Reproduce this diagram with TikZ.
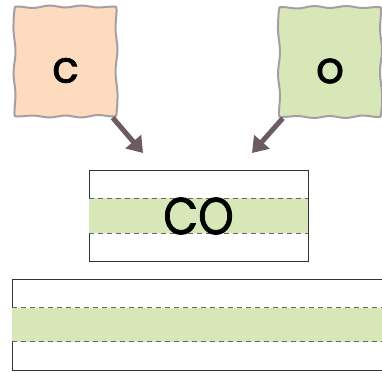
\documentclass[tikz,border=0pt]{standalone}
\usepackage{graphicx}
\usepackage{fontspec}
\setmainfont{Poppins}
\newfontfamily\heavyfont{Poppins}[FakeBold=1.5]
\usetikzlibrary{arrows.meta}
\definecolor{peach}{HTML}{FDDBBE}
\definecolor{leaf}{HTML}{D8E7B8}
\definecolor{rim}{HTML}{A69EA2}
\definecolor{plum}{HTML}{6C5B61}

% wavy outline round a tile node
\newcommand{\wobble}[1]{plot[smooth cycle,tension=0.55] coordinates {
  ([shift={(-48,-55)}]#1.center) ([shift={(-32,-53.5)}]#1.center) ([shift={(-16,-56)}]#1.center)
  ([shift={(0,-54)}]#1.center) ([shift={(16,-56)}]#1.center) ([shift={(32,-54)}]#1.center)
  ([shift={(48,-55)}]#1.center)
  ([shift={(51,-52)}]#1.center) ([shift={(50,-32)}]#1.center) ([shift={(52,-12)}]#1.center)
  ([shift={(50,10)}]#1.center) ([shift={(52,32)}]#1.center) ([shift={(51,52)}]#1.center)
  ([shift={(48,55)}]#1.center) ([shift={(32,53.5)}]#1.center) ([shift={(16,56)}]#1.center)
  ([shift={(0,54)}]#1.center) ([shift={(-16,56)}]#1.center) ([shift={(-32,54)}]#1.center)
  ([shift={(-48,55)}]#1.center)
  ([shift={(-51,52)}]#1.center) ([shift={(-50,32)}]#1.center) ([shift={(-52,12)}]#1.center)
  ([shift={(-50,-10)}]#1.center) ([shift={(-52,-32)}]#1.center) ([shift={(-51,-52)}]#1.center)}}

\begin{document}
\begin{tikzpicture}[x=1pt,y=-1pt,
tile/.style={minimum width=102pt,minimum height=110pt,inner sep=0pt},
rimline/.style={draw=rim,line width=2pt},
letter/.style={font=\heavyfont\fontsize{44}{44}\selectfont},
box/.style={draw=black!80,line width=0.9pt,inner sep=0pt},
band/.style={fill=leaf},
seam/.style={draw=black!60,line width=0.8pt,dash pattern=on 5pt off 4pt},
arrow/.style={-{Triangle[length=15pt,width=20pt]},draw=plum,fill=plum,line width=5pt},
word/.style={font=\heavyfont\fontsize{52}{52}\selectfont} ]

\useasboundingbox (0,0) rectangle (382,372);
\clip (0,0) rectangle (382,372);

\node[tile](C) at (65.5,61.5) {};
\draw[rimline,fill=peach] \wobble{C};
\node[letter](Cl) at ([yshift=-9pt]C.center) {c};

\node[tile](O) at (330,62) {};
\draw[rimline,fill=leaf] \wobble{O};
\node[letter](Ol) at ([yshift=-9pt]O.center) {o};

\coordinate (cin) at (143,153);
\coordinate (oin) at (252,153);

\draw[arrow] ([shift={(-4,1)}]C.south east) -- (cin);

\draw[arrow] ([shift={(4,1)}]O.south west) -- (oin);

\node[box,minimum width=219pt,minimum height=91pt](CO) at (198.5,215.5) {};
\fill[band] ([shift={(0.5pt,17.5pt)}]CO.west) rectangle ([shift={(-0.5pt,-17.5pt)}]CO.east);
\draw[seam] ([yshift=17.5pt]CO.west) -- ([yshift=17.5pt]CO.east);
\draw[seam] ([yshift=-17.5pt]CO.west) -- ([yshift=-17.5pt]CO.east);
\node[word](COtext) at ([yshift=-0.5pt]CO.center) {\scalebox{0.87}[1]{CO}};

\node[box,minimum width=380pt,minimum height=91pt](R) at (202,324.5) {};
\fill[band] ([shift={(0.5pt,17pt)}]R.west) rectangle ([shift={(-0.5pt,-17pt)}]R.east);
\draw[seam] ([yshift=17pt]R.west) -- ([yshift=17pt]R.east);
\draw[seam] ([yshift=-17pt]R.west) -- ([yshift=-17pt]R.east);
\end{tikzpicture}
\end{document}
